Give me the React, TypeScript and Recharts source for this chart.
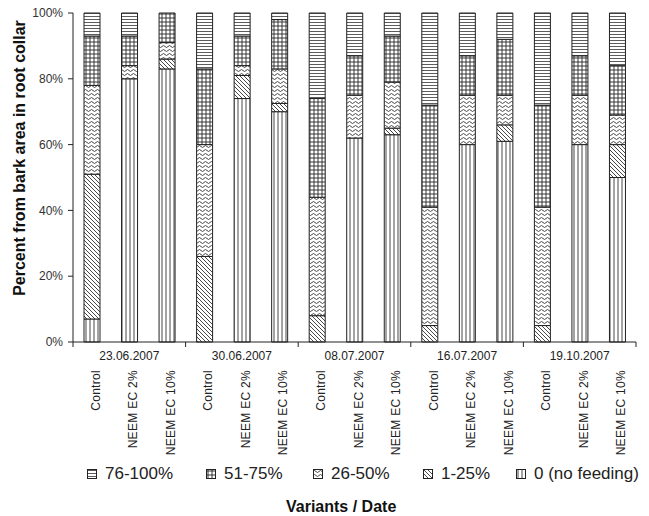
import { BarChart, Bar, XAxis, YAxis, Label } from 'recharts';

// categories
const variants = ['Control', 'NEEM EC 2%', 'NEEM EC 10%'];
const dates = ['23.06.2007', '30.06.2007', '08.07.2007', '16.07.2007', '19.10.2007'];

// share of bark area (%) per damage class, one value per bar (date x variant)
const noFeeding = [7, 80, 83, 0, 74, 70, 0, 62, 63, 0, 60, 61, 0, 60, 50];
const pct1to25 = [44, 0, 3, 26, 7, 2.5, 8, 0, 2, 5, 0, 5, 5, 0, 10];
const pct26to50 = [27, 4, 5, 34, 3, 10.5, 36, 13, 14, 36, 15, 9, 36, 15, 9];
const pct51to75 = [15, 9, 9, 23, 9, 15, 30, 12, 14, 31, 12, 17, 31, 12, 15];
const pct76to100 = [7, 7, 0, 17, 7, 2, 26, 13, 7, 28, 13, 8, 28, 13, 16];

const yTicks = [0, 20, 40, 60, 80, 100];

const series = [
  { key: 'noFeeding', name: '0 (no feeding)', values: noFeeding, fill: 'url(#pat-vert)' },
  { key: 'p1', name: '1-25%', values: pct1to25, fill: 'url(#pat-diag)' },
  { key: 'p26', name: '26-50%', values: pct26to50, fill: 'url(#pat-wave)' },
  { key: 'p51', name: '51-75%', values: pct51to75, fill: 'url(#pat-grid)' },
  { key: 'p76', name: '76-100%', values: pct76to100, fill: 'url(#pat-horiz)' },
];

const data = dates.flatMap((date, d) =>
  variants.map((variant, v) => {
    const i = d * variants.length + v;
    const row: Record<string, string | number> = { id: i, date, variant };
    series.forEach((s) => {
      row[s.key] = s.values[i];
    });
    return row;
  })
);

const legendOrder = [...series].reverse();
const legendLeft = [87, 206, 313, 423, 516];

const WIDTH = 649;
const HEIGHT = 516;
const MARGIN = { top: 13, right: 13, bottom: 64, left: 0 };
const Y_WIDTH = 73;
const STEP = (WIDTH - MARGIN.right - Y_WIDTH) / data.length;
const INK = '#222';
const FONT = '"Liberation Sans", Arial, sans-serif';

const VariantTick = (props: any) => {
  const { x, y, payload } = props;
  const idx = Number(payload.value);
  const row = data[idx];
  const pos = idx % variants.length;
  const tx = x + 4;
  const ty = y + 28;
  return (
    <g>
      <text
        x={tx}
        y={ty}
        transform={`rotate(-90 ${tx} ${ty})`}
        textAnchor="end"
        dominantBaseline="central"
        fontSize={12}
        letterSpacing={0.3}
        fill={INK}
      >
        {row.variant}
      </text>
      {pos === 1 && (
        <text x={x} y={y + 18} textAnchor="middle" fontSize={12} fill={INK}>
          {row.date}
        </text>
      )}
      {pos === 0 && <line x1={x - STEP / 2} x2={x - STEP / 2} y1={y} y2={y + 5} stroke={INK} />}
      {idx === data.length - 1 && (
        <line x1={x + STEP / 2} x2={x + STEP / 2} y1={y} y2={y + 5} stroke={INK} />
      )}
    </g>
  );
};

const Patterns = () => (
  <defs>
    <pattern id="pat-vert" patternUnits="userSpaceOnUse" width="4" height="4">
      <rect width="4" height="4" fill="#fff" />
      <line x1="2" y1="0" x2="2" y2="4" stroke="#333" strokeWidth="0.9" />
    </pattern>
    <pattern id="pat-horiz" patternUnits="userSpaceOnUse" width="3" height="3">
      <rect width="3" height="3" fill="#fff" />
      <line x1="0" y1="1.5" x2="3" y2="1.5" stroke="#333" strokeWidth="0.8" />
    </pattern>
    <pattern id="pat-grid" patternUnits="userSpaceOnUse" width="4" height="4">
      <rect width="4" height="4" fill="#fff" />
      <line x1="0" y1="2" x2="4" y2="2" stroke="#222" strokeWidth="0.9" />
      <line x1="2" y1="0" x2="2" y2="4" stroke="#222" strokeWidth="0.9" />
    </pattern>
    <pattern id="pat-diag" patternUnits="userSpaceOnUse" width="4" height="4">
      <rect width="4" height="4" fill="#fff" />
      <path d="M0,0 L4,4 M-1,3 L1,5 M3,-1 L5,1" stroke="#333" strokeWidth="0.9" />
    </pattern>
    <pattern id="pat-wave" patternUnits="userSpaceOnUse" width="6" height="4">
      <rect width="6" height="4" fill="#fff" />
      <path d="M0,2.5 Q1.5,0.5 3,2.5 T6,2.5" fill="none" stroke="#333" strokeWidth="0.9" />
    </pattern>
  </defs>
);

export default function App() {
  return (
    <div style={{ position: 'relative', width: WIDTH, height: HEIGHT, background: '#fff', fontFamily: FONT }}>
      <style>{`body{margin:0;background:#fff}`}</style>
      <BarChart width={WIDTH} height={HEIGHT} data={data} margin={MARGIN} barSize={16}>
        <Patterns />
        <XAxis
          dataKey="id"
          type="category"
          interval={0}
          height={110}
          tickLine={false}
          tickSize={0}
          tickMargin={0}
          tick={<VariantTick />}
          axisLine={{ stroke: INK }}
        />
        <YAxis
          width={Y_WIDTH}
          domain={[0, 100]}
          ticks={yTicks}
          tickFormatter={(v: number) => `${v}%`}
          tickSize={5}
          tickMargin={5}
          tick={{ fontSize: 12, fill: '#333', fontFamily: FONT }}
          axisLine={{ stroke: INK }}
          tickLine={{ stroke: INK }}
        >
          <Label
            content={() => (
              <text
                x={19}
                y={158}
                transform="rotate(-90 19 158)"
                textAnchor="middle"
                dominantBaseline="central"
                fontWeight="bold"
                fontSize={16}
                fill="#111"
                fontFamily={FONT}
              >
                Percent from bark area in root collar
              </text>
            )}
          />
        </YAxis>
        {series.map((s) => (
          <Bar
            key={s.key}
            dataKey={s.key}
            name={s.name}
            stackId="a"
            fill={s.fill}
            stroke={INK}
            strokeWidth={1}
            isAnimationActive={false}
          />
        ))}
      </BarChart>
      {legendOrder.map((s, i) => (
        <div
          key={s.key}
          style={{
            position: 'absolute',
            left: legendLeft[i],
            top: 463,
            display: 'flex',
            alignItems: 'center',
            fontSize: 17,
            lineHeight: '22px',
            color: INK,
          }}
        >
          <svg width={10} height={10} style={{ marginRight: 8 }}>
            <rect x={0.5} y={0.5} width={9} height={9} fill={s.fill} stroke={INK} strokeWidth={1} />
          </svg>
          {s.name}
        </div>
      ))}
      <div
        style={{
          position: 'absolute',
          left: 286,
          top: 497,
          fontSize: 16,
          fontWeight: 'bold',
          color: '#111',
          lineHeight: '20px',
        }}
      >
        Variants / Date
      </div>
    </div>
  );
}
